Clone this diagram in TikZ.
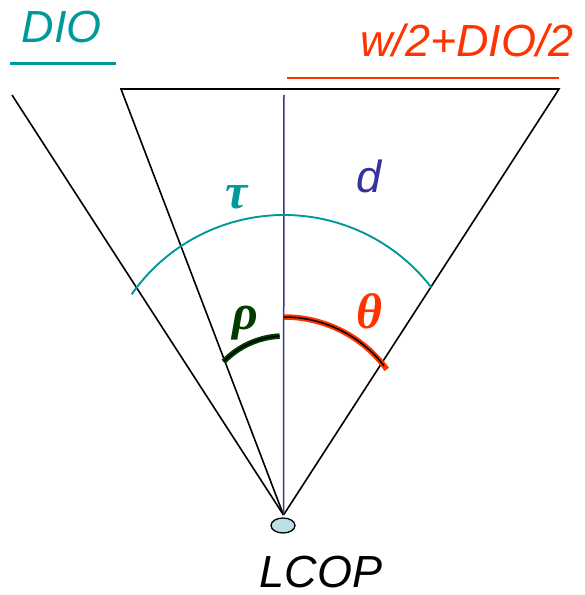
\documentclass[tikz,border=0pt]{standalone}
\usepackage{fontspec}
\setmainfont{Liberation Sans}
\newfontfamily\grkfont{Liberation Serif}
\usetikzlibrary{shapes.geometric}
\definecolor{tealc}{RGB}{0,153,153}
\definecolor{redc}{RGB}{255,51,0}
\definecolor{bluec}{RGB}{51,51,153}
\definecolor{greenc}{RGB}{0,60,0}
\definecolor{copfill}{RGB}{187,224,227}
\tikzset{
  ray/.style={black, line width=1.6pt},
  lbl/.style={inner sep=0pt, anchor=base, font=\fontsize{45}{50}\selectfont\itshape},
  greek/.style={inner sep=0pt, font=\fontsize{50}{54}\selectfont\grkfont\itshape\bfseries},
  uline/.style={line width=2.6pt},
}
\begin{document}
\begin{tikzpicture}[x=1pt,y=1pt]
\useasboundingbox (0,0) rectangle (585,595);
% key points
\coordinate (apex) at (283.5,80);
\coordinate (lo) at (12,500);
\coordinate (li) at (121,506);
\coordinate (rt) at (559,506);
\coordinate (vt) at (284,500);
\coordinate (ul1) at (10,531.5);
\coordinate (ul2) at (116,531.5);
\coordinate (ur1) at (287,517);
\coordinate (ur2) at (559,517);
\coordinate (tauc) at (284,194);
\coordinate (rhoc) at (284,175);
\coordinate (thc) at (284,151);
% rays
\draw[ray] (apex) -- (lo);
\draw[ray] (apex) -- (li) -- (rt) -- (apex);
\draw[bluec, line width=1.5pt] (apex) -- (vt);
% underlines
\draw[uline, tealc] (ul1) -- (ul2);
\draw[uline, redc] (ur1) -- (ur2);
% arcs
\draw[tealc, line width=1.9pt] (tauc) ++(37.5:186) arc[start angle=37.5, end angle=145, radius=186];
\draw[greenc, line width=5.5pt] (rhoc) ++(93:84) arc[start angle=93, end angle=136, radius=84];
\draw[black, line width=1.5pt] (rhoc) ++(93:84) arc[start angle=93, end angle=136, radius=84];
\draw[redc, line width=5.5pt] (thc) ++(90:127) arc[start angle=90, end angle=36, radius=127];
\draw[black, line width=1.5pt] (thc) ++(90:127) arc[start angle=90, end angle=38, radius=127];
% apex ellipse
\node[ellipse, draw=black, line width=1.3pt, fill=copfill, minimum width=24pt, minimum height=15pt, inner sep=0pt] (lcop) at (283,69.5) {};
% labels
\node[lbl, tealc] (dio) at (62,552) {DIO};
\node[lbl, redc] (wdio) at (467,538) {w/2+DIO/2};
\node[lbl, bluec] (d) at (369,402) {d};
\node[lbl, black] (lcoplbl) at (321,8) {LCOP};
\node[greek, tealc] (tau) at (237,398) {τ};
\node[greek, greenc] (rho) at (245,272) {ρ};
\node[greek, redc] (theta) at (369,284) {θ};
\end{tikzpicture}
\end{document}
